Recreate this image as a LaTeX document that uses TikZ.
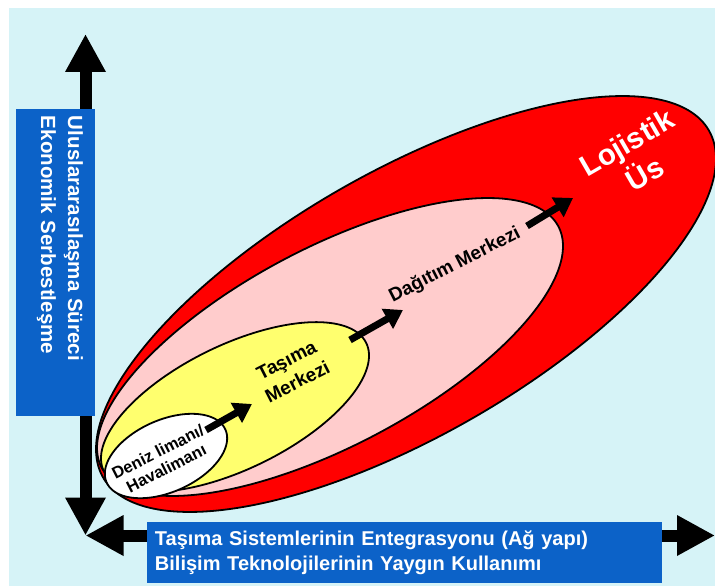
\documentclass[tikz,border=0pt]{standalone}
\usepackage{fontspec}
\setmainfont{Liberation Sans}
\usetikzlibrary{arrows.meta}
\definecolor{bgcyan}{RGB}{214,243,247}
\definecolor{boxblue}{RGB}{12,98,200}
\definecolor{hubred}{RGB}{255,0,0}
\definecolor{distpink}{RGB}{255,204,204}
\definecolor{transyellow}{RGB}{255,255,110}
\begin{document}
\begin{tikzpicture}[x=1bp,y=-1bp,
  zone/.style={draw=black, line width=1.8bp},
  axisarrow/.style={line width=12bp,
    {Triangle[length=38bp,width=38bp]}-{Triangle[length=38bp,width=38bp]}},
  steparrow/.style={line width=7bp, -{Triangle[length=18bp,width=22bp]}},
  axisbox/.style={fill=boxblue, inner sep=0pt},
  axistext/.style={text=white, inner sep=0pt, align=left},
  zonelabel/.style={align=center, inner sep=1bp}
]
\useasboundingbox (0,0) rectangle (715,586);
\fill[white] (0,0) rectangle (715,586);
\fill[bgcyan] (9,8) rectangle (715,586);

% nested zones, each an ellipse c + A cos t + B sin t
\filldraw[zone, fill=hubred] plot[domain=0:360, samples=240]
  ({406+310*cos(\x)}, {304-145.2*cos(\x)+148.9*sin(\x)}) -- cycle;
\filldraw[zone, fill=distpink] plot[domain=0:360, samples=240]
  ({330+233*cos(\x)}, {347-100.9*cos(\x)+109.6*sin(\x)}) -- cycle;
\filldraw[zone, fill=transyellow] plot[domain=0:360, samples=240]
  ({235+146*0.8988*cos(\x)+62*0.4384*sin(\x)}, {407-146*0.4384*cos(\x)+62*0.8988*sin(\x)}) -- cycle;
\filldraw[zone, fill=white] plot[domain=0:360, samples=240]
  ({166+65*0.9135*cos(\x)+36*0.4067*sin(\x)}, {456-65*0.4067*cos(\x)+36*0.9135*sin(\x)}) -- cycle;

% axes
\coordinate (corner) at (85.5,535.5);
\coordinate (ytip) at (85.5,34);
\coordinate (xtip) at (715,535.5);
\draw[axisarrow] (corner) -- (ytip);
\draw[axisarrow] (corner) -- (xtip);

% axis captions
\node[axisbox, minimum width=79bp, minimum height=307bp] (vbox) at (55.5,262.5) {};
\node[axistext, rotate=-90, text width=293bp,
  font=\bfseries\fontsize{20.5bp}{27bp}\selectfont] (vtext) at (60,262.5)
  {Uluslararasılaşma Süreci\\Ekonomik Serbestleşme};
\node[axisbox, minimum width=515bp, minimum height=61bp] (hbox) at (404.5,552.5) {};
\node[axistext, text width=499bp,
  font=\bfseries\fontsize{20bp}{25bp}\selectfont] (htext) at (404.5,552.5)
  {Taşıma Sistemlerinin Entegrasyonu (Ağ yapı)\\Bilişim Teknolojilerinin Yaygın Kullanımı};

% zone labels
\node[zonelabel, rotate=30, text=white, font=\bfseries\fontsize{29.5bp}{36bp}\selectfont]
  (hublabel) at (636,158) {Lojistik\\Üs};
\node[zonelabel, rotate=27, font=\bfseries\fontsize{19bp}{22bp}\selectfont]
  (distlabel) at (455,265) {Dağıtım Merkezi};
\node[zonelabel, rotate=27, font=\bfseries\fontsize{19bp}{24bp}\selectfont]
  (translabel) at (292,371) {Taşıma\\Merkezi};
\node[zonelabel, rotate=27, font=\bfseries\fontsize{16.5bp}{18.5bp}\selectfont]
  (portlabel) at (162,460) {Deniz limanı/\\Havalimanı};

% growth steps
\coordinate (s1a) at (206,430);
\coordinate (s1b) at (252,404);
\coordinate (s2a) at (350,340);
\coordinate (s2b) at (403,310);
\coordinate (s3a) at (527,226);
\coordinate (s3b) at (573,198);
\draw[steparrow] (s1a) -- (s1b);
\draw[steparrow] (s2a) -- (s2b);
\draw[steparrow] (s3a) -- (s3b);
\end{tikzpicture}
\end{document}
